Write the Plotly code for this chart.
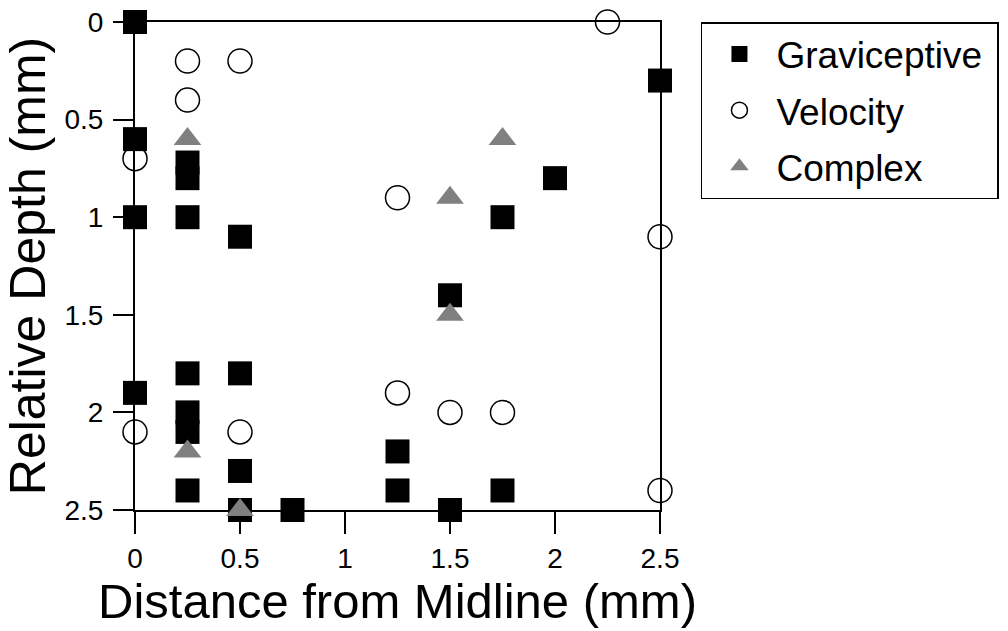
import plotly.graph_objects as go

# Graviceptive (filled squares)
grav_x = [0, 0, 0, 0, 0.25, 0.25, 0.25, 0.25, 0.25, 0.25, 0.25, 0.5, 0.5, 0.5, 0.5,
          0.75, 1.25, 1.25, 1.5, 1.5, 1.75, 1.75, 2.0, 2.5]
grav_y = [0, 0.6, 1.0, 1.9, 0.72, 0.8, 1.0, 1.8, 2.0, 2.1, 2.4, 1.1, 1.8, 2.3, 2.5,
          2.5, 2.2, 2.4, 1.4, 2.5, 1.0, 2.4, 0.8, 0.3]

# Velocity (open circles)
vel_x = [0, 0, 0.25, 0.25, 0.5, 0.5, 1.25, 1.25, 1.5, 1.75, 2.25, 2.5, 2.5]
vel_y = [0.7, 2.1, 0.2, 0.4, 0.2, 2.1, 0.9, 1.9, 2.0, 2.0, 0, 1.1, 2.4]

# Complex (grey triangles)
cpx_x = [0.25, 0.25, 0.5, 1.5, 1.5, 1.75]
cpx_y = [0.6, 2.2, 2.5, 0.9, 1.5, 0.6]

tick_vals = [0, 0.5, 1, 1.5, 2, 2.5]
tick_text = ["0", "0.5", "1", "1.5", "2", "2.5"]

FONT = "Liberation Sans, Arial, Helvetica, sans-serif"
PAD = "\u00a0"

fig = go.Figure()
fig.add_trace(go.Scatter(
    x=grav_x, y=grav_y, mode="markers", name="Graviceptive" + PAD, legendgroup="g",
    marker=dict(symbol="square", size=24, color="black", line=dict(width=0)),
    cliponaxis=False))
fig.add_trace(go.Scatter(
    x=vel_x, y=vel_y, mode="markers", name="Velocity", legendgroup="v",
    marker=dict(symbol="circle-open", size=24, color="black", line=dict(width=1.5, color="black")),
    cliponaxis=False))
fig.add_trace(go.Scatter(
    x=cpx_x, y=cpx_y, mode="markers", name="Complex", legendgroup="c",
    marker=dict(symbol="triangle-up", size=24, color="#808080", line=dict(width=0)),
    cliponaxis=False))

fig.update_layout(
    width=1008, height=631,
    margin=dict(l=135, r=348, t=22, b=121, autoexpand=False),
    paper_bgcolor="white", plot_bgcolor="white",
    font=dict(family=FONT, color="black"),
    showlegend=True,
    legend=dict(
        x=1.078, y=1.0, xanchor="left", yanchor="top",
        bordercolor="black", borderwidth=1.5,
        font=dict(size=37, family=FONT, color="black"),
        itemwidth=64, bgcolor="white",
        traceorder="grouped", tracegroupgap=5,
    ),
)

fig.update_xaxes(
    range=[0, 2.5], tickvals=tick_vals, ticktext=tick_text,
    showgrid=False, zeroline=False, automargin=False,
    showline=True, linecolor="black", linewidth=2, mirror=True,
    ticks="outside", ticklen=22, tickwidth=2, tickcolor="black",
    tickfont=dict(size=28, family=FONT, color="black"),
    title=dict(text="Distance from Midline (mm)", font=dict(size=49, family=FONT, color="black"), standoff=0),
    layer="below traces",
)
fig.update_yaxes(
    range=[2.5, 0], tickvals=tick_vals, ticktext=tick_text,
    showgrid=False, zeroline=False, automargin=False,
    showline=True, linecolor="black", linewidth=2, mirror=True,
    ticks="outside", ticklen=20, tickwidth=2, tickcolor="black",
    tickfont=dict(size=28, family=FONT, color="black"),
    ticklabelstandoff=4,
    title=dict(text="Relative Depth (mm)", font=dict(size=50, family=FONT, color="black"), standoff=4),
    layer="below traces",
)

fig.write_html(
    "out.html",
    config={"displayModeBar": False},
    post_script="document.body.style.margin='0';document.body.style.overflow='hidden';",
)
